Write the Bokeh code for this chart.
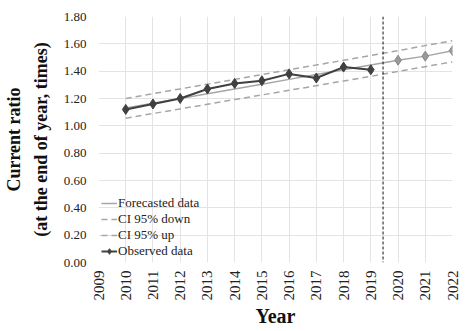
from bokeh.plotting import figure
from bokeh.models import (Span, Legend, LegendItem, FixedTicker, NumeralTickFormatter,
                          Range1d, LinearAxis)
from bokeh.embed import file_html
from bokeh.resources import INLINE

years_obs = [2010, 2011, 2012, 2013, 2014, 2015, 2016, 2017, 2018, 2019]
observed = [1.12, 1.16, 1.20, 1.27, 1.31, 1.33, 1.38, 1.35, 1.43, 1.41]

years_fc = [2010, 2011, 2012, 2013, 2014, 2015, 2016, 2017, 2018, 2019, 2020, 2021, 2022]
forecast = [1.13, 1.165, 1.20, 1.235, 1.27, 1.305, 1.34, 1.375, 1.41, 1.445, 1.48, 1.51, 1.55]
ci_down = [1.056, 1.09, 1.124, 1.158, 1.192, 1.226, 1.26, 1.294, 1.328, 1.362, 1.398, 1.433, 1.468]
ci_up = [1.20, 1.235, 1.27, 1.305, 1.34, 1.375, 1.41, 1.445, 1.48, 1.515, 1.55, 1.587, 1.623]

years_fc_pts = [2020, 2021, 2022]
forecast_pts = [1.48, 1.51, 1.55]

split_year = 2019.45
x_ticks = list(range(2009, 2023))
y_ticks = [0.0, 0.2, 0.4, 0.6, 0.8, 1.0, 1.2, 1.4, 1.6, 1.8]

FONT = "Liberation Serif"

p = figure(frame_width=354, frame_height=246, output_backend="svg", toolbar_location=None,
           x_range=Range1d(2009, 2022), y_range=Range1d(0, 1.8),
           min_border_left=91, min_border_top=16, min_border_right=10, min_border_bottom=53)
p.outline_line_color = None

grey = "#a6a6a6"
dark = "#404040"

r_down = p.line(years_fc, ci_down, line_color=grey, line_width=1.5, line_dash="6 4")
r_up = p.line(years_fc, ci_up, line_color=grey, line_width=1.5, line_dash="6 4")
r_fc = p.line(years_fc, forecast, line_color=grey, line_width=1.5)
p.scatter(years_fc_pts, forecast_pts, marker="diamond", size=10, fill_color="#999999",
          line_color="#8a8a8a")
r_obs_l = p.line(years_obs, observed, line_color=dark, line_width=2)
r_obs_m = p.scatter(years_obs, observed, marker="diamond", size=10, fill_color=dark, line_color=dark)

p.add_layout(Span(location=split_year, dimension="height", line_color="#111111",
                  line_width=1, line_dash="3 2"))

p.xaxis.ticker = FixedTicker(ticks=x_ticks)
p.yaxis.ticker = FixedTicker(ticks=y_ticks)
p.yaxis.formatter = NumeralTickFormatter(format="0.00")
p.xaxis.major_label_orientation = 3.14159265 / 2

for ax in (p.xaxis[0], p.yaxis[0]):
    ax.axis_line_color = None
    ax.major_tick_line_color = None
    ax.minor_tick_line_color = None
    ax.major_tick_out = 0
    ax.major_label_text_font = FONT
    ax.major_label_text_color = "#222222"
    ax.axis_label_text_font = FONT
    ax.axis_label_text_font_style = "bold"
    ax.axis_label_text_color = "#111111"

p.xaxis.major_label_text_font_size = "15px"
p.yaxis.major_label_text_font_size = "13px"
p.xaxis.axis_label = "Year"
p.xaxis.axis_label_text_font_size = "20px"
p.xaxis.axis_label_standoff = 1
p.xaxis.major_label_standoff = 8
p.yaxis.axis_label = "(at the end of year, times)"
p.yaxis.axis_label_text_font_size = "18px"
p.yaxis.axis_label_standoff = 10
p.yaxis.major_label_standoff = 12

outer = LinearAxis(ticker=FixedTicker(ticks=[]), axis_label="Current ratio")
outer.axis_line_color = None
outer.major_tick_line_color = None
outer.minor_tick_line_color = None
outer.major_tick_out = 0
outer.minor_tick_out = 0
outer.major_label_standoff = 0
outer.major_label_text_font_size = "0px"
outer.axis_label_standoff = 4
outer.axis_label_text_font = FONT
outer.axis_label_text_font_style = "bold"
outer.axis_label_text_font_size = "18px"
outer.axis_label_text_color = "#111111"
p.add_layout(outer, "left")

p.xgrid.grid_line_color = "#e3e3e3"
p.ygrid.grid_line_color = "#e3e3e3"

legend = Legend(items=[
    LegendItem(label="Forecasted data", renderers=[r_fc]),
    LegendItem(label="CI 95% down", renderers=[r_down]),
    LegendItem(label="CI 95% up", renderers=[r_up]),
    LegendItem(label="Observed data", renderers=[r_obs_l, r_obs_m]),
], location="bottom_left")
legend.background_fill_alpha = 0
legend.border_line_color = None
legend.label_text_font = FONT
legend.label_text_font_size = "13px"
legend.label_text_color = "#222222"
legend.glyph_width = 16
legend.glyph_height = 14
legend.label_height = 14
legend.label_standoff = 1
legend.spacing = 0
legend.padding = 2
legend.margin = 3
p.add_layout(legend)

open("out.html", "w").write(file_html(p, INLINE))
